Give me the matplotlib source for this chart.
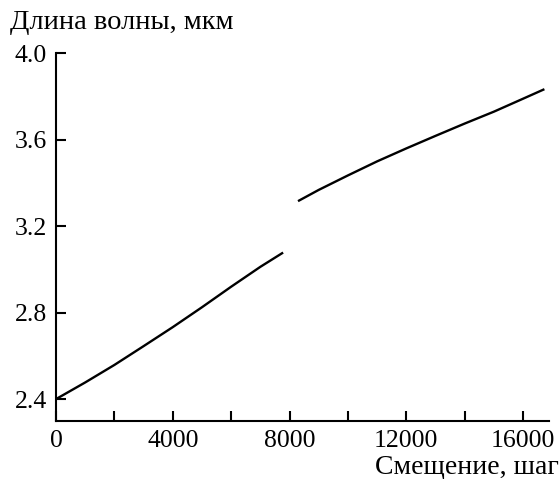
import matplotlib
matplotlib.use("Agg")
import matplotlib.pyplot as plt
from matplotlib.ticker import MultipleLocator

plt.rcParams['font.family'] = ['Liberation Serif', 'DejaVu Serif']

# Segment 1 (shift, steps) -> wavelength, um
x1 = [0, 1000, 2000, 3000, 4000, 5000, 6000, 7000, 7780]
y1 = [2.400, 2.477, 2.558, 2.645, 2.733, 2.825, 2.920, 3.012, 3.078]
# Segment 2
x2 = [8290, 9000, 10000, 11000, 12000, 13000, 14000, 15000, 16000, 16730]
y2 = [3.316, 3.368, 3.435, 3.500, 3.560, 3.618, 3.675, 3.730, 3.790, 3.834]

xticks = [0, 4000, 8000, 12000, 16000]
yticks = [2.4, 2.8, 3.2, 3.6, 4.0]
ylabels = ["2.4", "2.8", "3.2", "3.6", "4.0"]

fig = plt.figure(figsize=(5.6, 4.79), dpi=100)
ax = fig.add_axes([0.1, 0.1217, 0.881, 0.767])

ax.plot(x1, y1, color='black', lw=1.7, solid_capstyle='butt')
ax.plot(x2, y2, color='black', lw=1.7, solid_capstyle='butt')

ax.set_xlim(0, 16900)
ax.set_ylim(2.3, 4.0)
ax.set_xticks(xticks)
ax.set_xticklabels([str(v) for v in xticks])
ax.xaxis.set_minor_locator(MultipleLocator(2000))
ax.set_yticks(yticks)
ax.set_yticklabels(ylabels)

for s in ['top', 'right']:
    ax.spines[s].set_visible(False)
for s in ['left', 'bottom']:
    ax.spines[s].set_linewidth(1.5)

ax.tick_params(axis='x', which='both', direction='in', length=7, width=1.5,
               labelsize=18.5, pad=7)
ax.tick_params(axis='y', which='both', direction='in', length=7, width=1.5,
               labelsize=18.5, pad=6.5)

fig.text(0.018, 0.952, "Длина волны, мкм", fontsize=20.5, ha='left', va='center')
fig.text(0.998, 0.023, "Смещение, шаг", fontsize=20, ha='right', va='center')

fig.savefig("out.png", dpi=100)
